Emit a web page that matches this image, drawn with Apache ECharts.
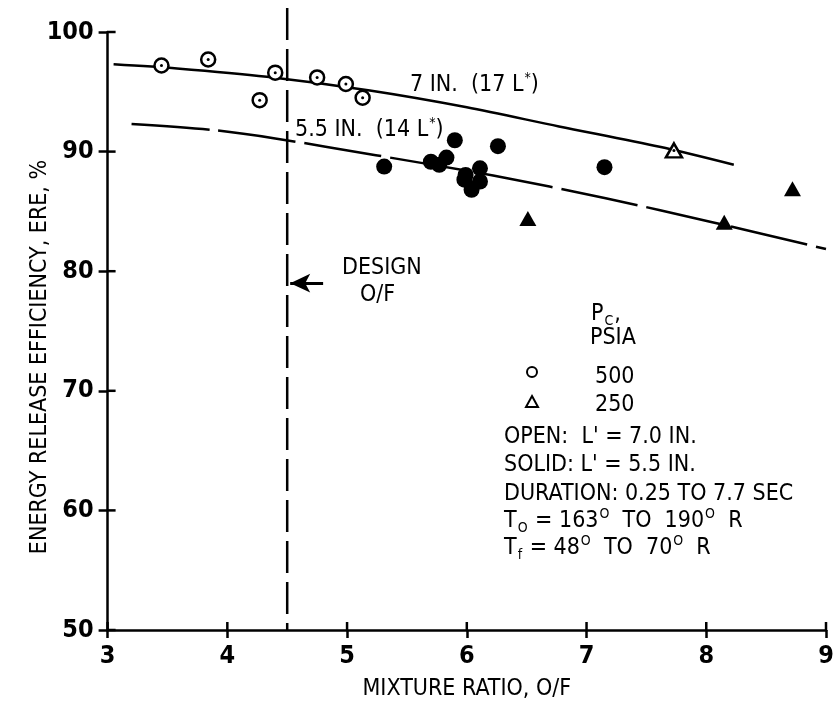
<!DOCTYPE html>
<html><head><meta charset="utf-8">
<script src="https://cdn.jsdelivr.net/npm/echarts@6/dist/echarts.min.js"></script>
<style>html,body{margin:0;padding:0;background:#fff}#c{width:833px;height:702px}</style>
</head><body><div id="c"></div>
<script>
// ---- data ----
const xRange = [3, 9];
const yRange = [50, 100];
const xTicks = [3, 4, 5, 6, 7, 8, 9];
const yTicks = [50, 60, 70, 80, 90, 100];
const open500 = [[3.45,97.2],[3.84,97.7],[4.27,94.3],[4.40,96.6],[4.75,96.2],[4.99,95.65],[5.13,94.5]];
const open250 = [[7.73,90.1]];
const solid500 = [[5.31,88.75],[5.70,89.15],[5.77,88.9],[5.83,89.5],[5.90,90.95],[6.26,90.45],[6.11,88.6],[5.98,87.65],[5.99,88.05],[6.11,87.5],[6.04,86.8],[7.15,88.7]];
const solid250 = [[6.51,84.4],[8.15,84.1],[8.72,86.9]];
const curve7in = [[3.05,97.3],[3.58,96.95],[4.33,96.25],[5.19,95.1],[6.0,93.7],[6.77,92.1],[7.61,90.4],[8.23,88.9]];
const curve55in = [[3.2,92.3],[3.88,91.8],[4.4,91.1],[5.24,89.7],[6.22,88.0],[7.16,86.1],[8.05,84.1],[9.0,81.85]];
const designOF = [[4.5,102],[4.5,50]];
const designArrow = [[4.80,79.0],[4.525,79.0]];

const FONT = "'Liberation Sans Narrow','DejaVu Sans Condensed','Roboto Condensed',sans-serif";
const chart = echarts.init(document.getElementById('c'), null, {renderer:'canvas'});

function txt(x, y, text, size, extra) {
  return Object.assign({
    type:'text', x:x, y:y, silent:true,
    style:{text:text, font: size+'px '+FONT, fill:'#000', textAlign:'left', textVerticalAlign:'middle', align:'left', verticalAlign:'middle'}
  }, extra||{});
}
function richTxt(x, y, text, size) {
  return {
    type:'text', x:x, y:y, silent:true,
    style:{
      text:text, fontFamily:FONT, fontSize:size, fill:'#000', align:'left', verticalAlign:'middle',
      rich:{
        n:{fontFamily:FONT, fontSize:size, fill:'#000', lineHeight:30, verticalAlign:'middle'},
        sup:{fontFamily:FONT, fontSize:Math.round(size*0.62), fill:'#000', lineHeight:30, padding:[0,0,14,1]},
        sub:{fontFamily:FONT, fontSize:Math.round(size*0.62), fill:'#000', lineHeight:30, padding:[14,1,0,1]}
      }
    }
  };
}

const tickStyle = {color:'#000', width:2.5};
const TICK_IN = 8;

const option = {
  animation:false,
  backgroundColor:'#fff',
  grid:{left:107.6, right:7, top:32, bottom:72, containLabel:false, outerBoundsMode:'none'},
  xAxis:{type:'value', min:xRange[0], max:xRange[1], interval:1, position:'bottom', splitLine:{show:false},
      axisLine:{show:true, onZero:false, lineStyle:tickStyle},
      axisTick:{show:true, length:8, lineStyle:tickStyle},
      axisLabel:{show:true, margin:14, color:'#000', fontFamily:FONT, fontSize:25, fontWeight:'bold'},
      name:'MIXTURE RATIO, O/F', nameLocation:'middle', nameGap:48,
      nameTextStyle:{color:'#000', fontFamily:FONT, fontSize:23}},
  yAxis:{type:'value', min:yRange[0], max:yRange[1], interval:10, position:'left', splitLine:{show:false},
      axisLine:{show:true, onZero:false, lineStyle:tickStyle},
      axisTick:{show:true, length:9, lineStyle:tickStyle},
      axisLabel:{show:true, margin:14, color:'#000', fontFamily:FONT, fontSize:25, fontWeight:'bold'}},
  series:[
    // inner halves of the crossing ticks, placed through the axis scales
    {type:'custom', name:'xTicksIn', data:xTicks.map(v => [v]), silent:true, z:3,
      renderItem:(params, api) => {
        const p = api.coord([api.value(0), yRange[0]]);
        return {type:'line', shape:{x1:p[0], y1:p[1], x2:p[0], y2:p[1]-TICK_IN}, style:{stroke:'#000', lineWidth:2.5}};
      }},
    {type:'custom', name:'yTicksIn', data:yTicks.map(v => [xRange[0], v]), silent:true, z:3,
      renderItem:(params, api) => {
        const p = api.coord([xRange[0], api.value(1)]);
        return {type:'line', shape:{x1:p[0], y1:p[1], x2:p[0]+TICK_IN, y2:p[1]}, style:{stroke:'#000', lineWidth:2.5}};
      }},
    {type:'line', name:'design', data:designOF, clip:false, symbol:'none', silent:true,
      lineStyle:{color:'#000', width:2.5, type:[32,9]}, z:2,
      markLine:{silent:true, symbol:['none','arrow'], symbolSize:[14,20], label:{show:false},
        lineStyle:{color:'#000', width:3, type:'solid'},
        data:[[{coord:designArrow[0]},{coord:designArrow[1]}]]}},
    {type:'line', name:'7 in', data:curve7in, smooth:0.3, symbol:'none', silent:true,
      lineStyle:{color:'#000', width:2.5}, z:2},
    {type:'line', name:'5.5 in', data:curve55in, smooth:0.3, symbol:'none', silent:true,
      lineStyle:{color:'#000', width:2.5, type:[78,9]}, z:2},
    {type:'scatter', name:'open500', data:open500, symbol:'circle', symbolSize:14,
      itemStyle:{color:'#fff', borderColor:'#000', borderWidth:2.5, opacity:1}, z:5},
    {type:'scatter', name:'open500dot', data:open500, symbol:'circle', symbolSize:3,
      itemStyle:{color:'#000', opacity:1}, z:6},
    {type:'scatter', name:'open250', data:open250, symbol:'triangle', symbolSize:[16,14],
      itemStyle:{color:'#fff', borderColor:'#000', borderWidth:2.5, opacity:1}, z:5},
    {type:'scatter', name:'open250dot', data:open250, symbol:'circle', symbolSize:3,
      itemStyle:{color:'#000', opacity:1}, z:6},
    {type:'scatter', name:'solid500', data:solid500, symbol:'circle', symbolSize:16,
      itemStyle:{color:'#000', opacity:1}, z:5},
    {type:'scatter', name:'solid250', data:solid250, symbol:'triangle', symbolSize:[17,15],
      itemStyle:{color:'#000', opacity:1}, z:5}
  ],
  graphic:[
    txt(40, 357, 'ENERGY RELEASE EFFICIENCY, ERE, %', 23, {rotation:Math.PI/2,
      style:{text:'ENERGY RELEASE EFFICIENCY, ERE, %', font:'23px '+FONT, fill:'#000', align:'center', verticalAlign:'middle', textAlign:'center', textVerticalAlign:'middle'}}),
    richTxt(410, 85, '{n|7 IN.  (17 L}{sup|*}{n|)}', 23),
    richTxt(295, 130, '{n|5.5 IN.  (14 L}{sup|*}{n|)}', 23),
    txt(342, 268, 'DESIGN', 23),
    txt(360, 295, 'O/F', 23),
    richTxt(591, 314, '{n|P}{sub|C}{n|,}', 23),
    txt(590, 338, 'PSIA', 23),
    {type:'circle', silent:true, shape:{cx:532, cy:372, r:5}, style:{fill:'#fff', stroke:'#000', lineWidth:2}},
    txt(595, 377, '500', 23),
    {type:'polygon', silent:true, shape:{points:[[532,396],[538,407],[526,407]]}, style:{fill:'#fff', stroke:'#000', lineWidth:2}},
    txt(595, 405, '250', 23),
    txt(504, 437, "OPEN:  L' = 7.0 IN.", 23),
    txt(504, 465, "SOLID: L' = 5.5 IN.", 23),
    txt(504, 494, 'DURATION: 0.25 TO 7.7 SEC', 23),
    richTxt(504, 521, '{n|T}{sub|O}{n| = 163}{sup|O}{n|  TO  190}{sup|O}{n|  R}', 23),
    richTxt(504, 548, '{n|T}{sub|f}{n| = 48}{sup|O}{n|  TO  70}{sup|O}{n|  R}', 23)
  ]
};
chart.setOption(option);
</script>
</body></html>
